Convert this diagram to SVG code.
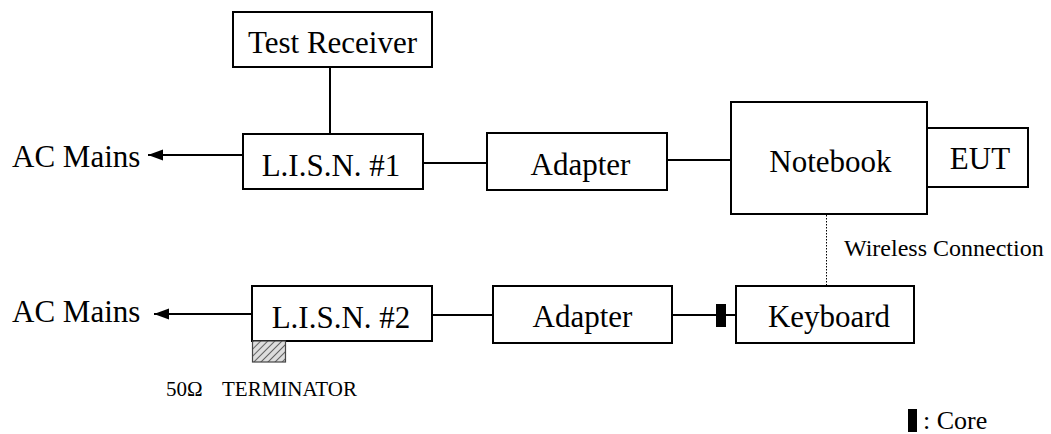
<svg xmlns="http://www.w3.org/2000/svg" width="1051" height="434" viewBox="0 0 1051 434">
<style>
.box{fill:#fff;stroke:#000;stroke-width:2}
.ln{stroke:#000;stroke-width:2;fill:none}
.t{font-family:"Liberation Serif","Times New Roman",serif;font-size:31px;fill:#000}
.s{font-family:"Liberation Serif","Times New Roman",serif;fill:#000}
</style>
<defs>
<marker id="arr" markerWidth="16" markerHeight="12" refX="15" refY="6" orient="auto" markerUnits="userSpaceOnUse">
<path d="M0,0.5 L15,6 L0,11.5 Z" fill="#000"/>
</marker>
<pattern id="hatch" width="5" height="5" patternUnits="userSpaceOnUse" patternTransform="rotate(45)">
<rect width="5" height="5" fill="#ddd"/>
<line x1="0" y1="0" x2="0" y2="5" stroke="#444" stroke-width="1.6"/>
</pattern>
</defs>
<rect width="1051" height="434" fill="#fff"/>
<g id="connectors">
<line class="ln" x1="330" y1="67" x2="330" y2="134"/>
<line class="ln" x1="243" y1="155" x2="148" y2="155" marker-end="url(#arr)"/>
<line class="ln" x1="423" y1="163" x2="487" y2="163"/>
<line class="ln" x1="667" y1="160" x2="731" y2="160"/>
<line class="ln" x1="252" y1="314" x2="154" y2="314" marker-end="url(#arr)"/>
<line class="ln" x1="432" y1="315" x2="493" y2="315"/>
<line class="ln" x1="672" y1="315" x2="736" y2="315"/>
<rect x="716" y="304" width="10" height="23" fill="#000"/>
<line x1="826.5" y1="215" x2="826.5" y2="286" stroke="#000" stroke-width="1" stroke-dasharray="1.5,1.5"/>
<text class="s" x="844" y="256" font-size="24">Wireless Connection</text>
</g>
<g id="test-receiver">
<rect class="box" x="233" y="12" width="199" height="55"/>
<text class="t" x="332.5" y="53" text-anchor="middle">Test Receiver</text>
</g>
<g id="ac-mains-1">
<text class="t" x="12" y="167">AC Mains</text>
</g>
<g id="lisn1">
<rect class="box" x="243" y="134" width="180" height="55"/>
<text class="t" x="331" y="176" text-anchor="middle">L.I.S.N. #1</text>
</g>
<g id="adapter1">
<rect class="box" x="487" y="133" width="180" height="57"/>
<text class="t" x="580.5" y="175" text-anchor="middle">Adapter</text>
</g>
<g id="notebook">
<rect class="box" x="731" y="102" width="196" height="112"/>
<text class="t" x="830.5" y="172" text-anchor="middle">Notebook</text>
</g>
<g id="eut">
<rect class="box" x="927" y="128" width="101" height="59"/>
<text class="t" x="980" y="169" text-anchor="middle">EUT</text>
</g>
<g id="ac-mains-2">
<text class="t" x="12" y="322">AC Mains</text>
</g>
<g id="lisn2">
<rect class="box" x="252" y="286" width="180" height="55"/>
<text class="t" x="341" y="328" text-anchor="middle">L.I.S.N. #2</text>
<rect x="252.5" y="341" width="33" height="21" fill="url(#hatch)" stroke="#444" stroke-width="1.2"/>
<text class="s" font-size="21" y="396"><tspan x="166">50Ω</tspan><tspan x="222">TERMINATOR</tspan></text>
</g>
<g id="adapter2">
<rect class="box" x="493" y="286" width="179" height="57"/>
<text class="t" x="582.5" y="327" text-anchor="middle">Adapter</text>
</g>
<g id="keyboard">
<rect class="box" x="736" y="286" width="178" height="57"/>
<text class="t" x="829" y="327" text-anchor="middle">Keyboard</text>
</g>
<g id="legend">
<rect x="908" y="409" width="9" height="23" fill="#000"/>
<text class="s" x="923" y="429" font-size="26">: Core</text>
</g>
</svg>
